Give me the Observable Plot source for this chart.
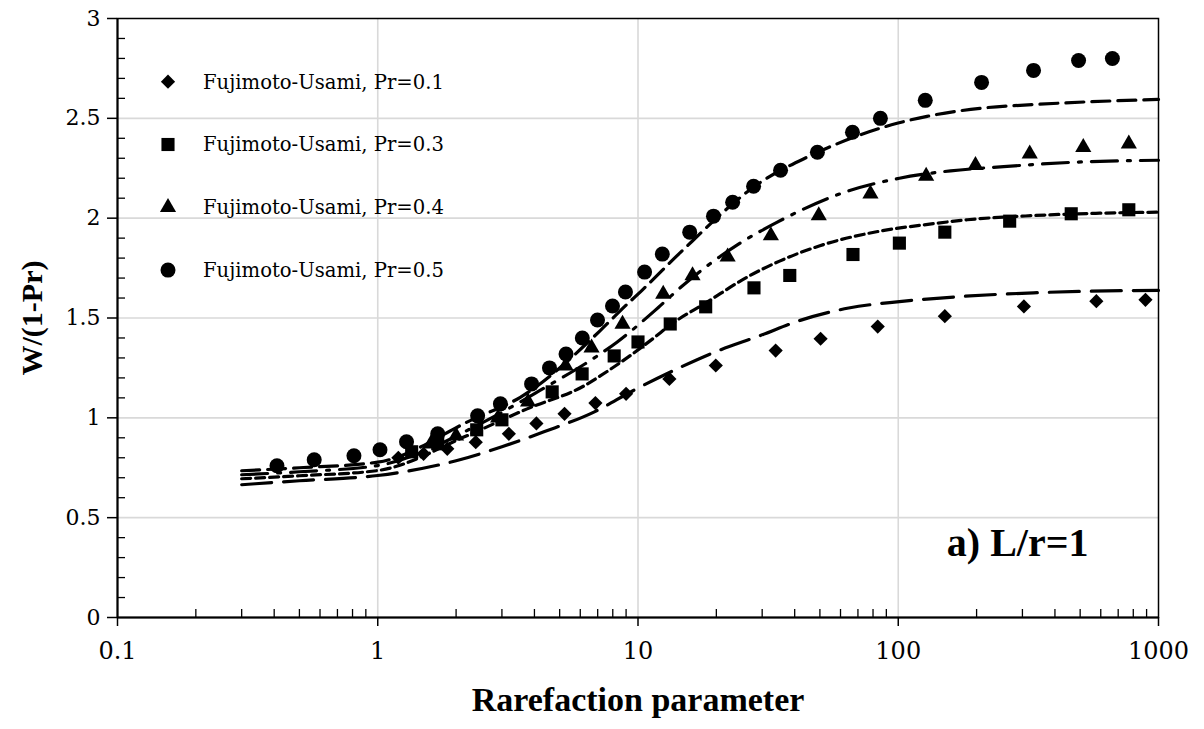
<!DOCTYPE html>
<html><head><meta charset="utf-8">
<script src="https://cdn.jsdelivr.net/npm/d3@7"></script>
<script src="https://cdn.jsdelivr.net/npm/@observablehq/plot@0.6"></script>
<style>
html,body{margin:0;padding:0;background:#fff;}
#wrap{position:relative;width:1204px;height:729px;overflow:hidden;}
#legend{position:absolute;left:150px;top:50px;}
</style></head>
<body><div id="wrap"><div id="chart"></div><div id="legend"></div></div>
<script>
// ---- data ----
const xTickLabels = [0.1, 1, 10, 100, 1000];
const yTickLabels = [0, 0.5, 1, 1.5, 2, 2.5, 3];

const seriesNames = ["Fujimoto-Usami, Pr=0.1", "Fujimoto-Usami, Pr=0.3", "Fujimoto-Usami, Pr=0.4", "Fujimoto-Usami, Pr=0.5"];

// symbols: Pr=0.1 diamonds
const pr01X = [1.2, 1.5, 1.85, 2.38, 3.19, 4.07, 5.22, 6.86, 9.0, 13.2, 19.9, 33.8, 50.3, 83.4, 151, 304, 577, 891];
const pr01Y = [0.80, 0.82, 0.845, 0.878, 0.92, 0.972, 1.02, 1.074, 1.12, 1.195, 1.262, 1.337, 1.396, 1.457, 1.509, 1.558, 1.584, 1.591];
// Pr=0.3 squares
const pr03X = [1.35, 1.7, 2.4, 3.0, 4.68, 6.1, 8.1, 10, 13.3, 18.2, 27.9, 38.3, 67, 101, 151, 268, 462, 769];
const pr03Y = [0.83, 0.87, 0.94, 0.99, 1.13, 1.22, 1.31, 1.38, 1.47, 1.556, 1.651, 1.713, 1.818, 1.875, 1.93, 1.985, 2.022, 2.042];
// Pr=0.4 triangles
const pr04X = [1.6, 2.0, 2.9, 3.78, 5.27, 6.63, 8.72, 12.5, 16.2, 22.1, 32.4, 49.5, 78.2, 128, 198, 320, 514, 769];
const pr04Y = [0.87, 0.91, 1.0, 1.08, 1.26, 1.35, 1.47, 1.62, 1.713, 1.806, 1.913, 2.013, 2.122, 2.211, 2.264, 2.322, 2.355, 2.372];
// Pr=0.5 circles
const pr05X = [0.41, 0.57, 0.81, 1.02, 1.29, 1.7, 2.42, 2.96, 3.9, 4.57, 5.29, 6.11, 6.99, 7.98, 8.95, 10.6, 12.4, 15.8, 19.5, 23.1, 27.8, 35.3, 48.9, 66.7, 85.4, 127, 209, 331, 493, 665];
const pr05Y = [0.76, 0.79, 0.81, 0.84, 0.88, 0.92, 1.01, 1.07, 1.17, 1.25, 1.32, 1.40, 1.49, 1.56, 1.63, 1.73, 1.82, 1.93, 2.01, 2.08, 2.16, 2.24, 2.33, 2.43, 2.50, 2.59, 2.68, 2.74, 2.79, 2.80];

// model curves
const c01X = [0.3, 0.5, 1, 2, 3, 4.35, 6.8, 9.6, 13.7, 19.8, 29.5, 42, 64.5, 101, 163, 331, 532, 1000];
const c01Y = [0.665, 0.685, 0.711, 0.785, 0.855, 0.93, 1.03, 1.137, 1.237, 1.33, 1.412, 1.488, 1.55, 1.582, 1.605, 1.626, 1.634, 1.638];
const c03X = [0.3, 0.5, 1, 2.2, 3.75, 6.2, 7.16, 11.5, 13.3, 18.4, 26.2, 35, 50, 85, 132, 184, 331, 595, 1000];
const c03Y = [0.695, 0.71, 0.736, 0.91, 1.045, 1.16, 1.21, 1.40, 1.465, 1.579, 1.704, 1.785, 1.862, 1.935, 1.97, 1.992, 2.013, 2.025, 2.03];
const c04X = [0.3, 0.5, 1, 2.56, 4.2, 7.16, 8.3, 12, 14.6, 24, 34.3, 62.6, 101, 159, 254, 470, 1000];
const c04Y = [0.715, 0.73, 0.761, 0.98, 1.137, 1.32, 1.379, 1.554, 1.654, 1.865, 1.98, 2.131, 2.2, 2.237, 2.258, 2.28, 2.29];
const c05X = [0.3, 0.5, 1, 2.34, 3.53, 7.16, 8.56, 10.5, 14.6, 30.4, 44.6, 99, 129, 206, 343, 1000];
const c05Y = [0.735, 0.75, 0.778, 0.995, 1.103, 1.437, 1.537, 1.646, 1.83, 2.19, 2.305, 2.475, 2.51, 2.55, 2.57, 2.595];

// ---- build tables ----
const tbl = (xs, ys) => xs.map((x, i) => ({x, y: ys[i]}));
const minorX = [];
for (const d of [0.1, 1, 10, 100]) for (let k = 2; k <= 9; k++) minorX.push(+(d * k).toPrecision(3));
const minorY = d3.range(1, 30).map(i => +(i / 10).toFixed(1)).filter(v => !yTickLabels.includes(v));

const lineStyle = {stroke: "#000", strokeWidth: 3.2, curve: "monotone-x"};
const symbols = [
  {sym: "diamond2", r: 6.4},
  {sym: "square", r: 7.4},
  {sym: "triangle", r: 6.0},
  {sym: "circle", r: 7.5}
];

const chart = Plot.plot({
  width: 1204, height: 729,
  marginLeft: 117, marginRight: 46, marginTop: 18, marginBottom: 112,
  style: {fontFamily: "DejaVu Serif", fontSize: "22px", color: "#000", background: "#fff"},
  x: {type: "log", domain: [0.1, 1000]},
  y: {domain: [0, 3]},
  marks: [
    Plot.gridX([1, 10, 100], {stroke: "#d9d9d9", strokeOpacity: 1, strokeWidth: 1.6}),
    Plot.gridY([0.5, 1, 1.5, 2, 2.5], {stroke: "#d9d9d9", strokeOpacity: 1, strokeWidth: 1.6}),
    Plot.axisX(xTickLabels, {tickSize: 9, tickPadding: 15, tickFormat: d => String(d), label: null, strokeWidth: 1.5, fontSize: 24}),
    Plot.axisX(minorX, {tickSize: -8, tickFormat: () => "", label: null, strokeWidth: 1.3}),
    Plot.axisY(yTickLabels, {tickSize: 10, tickPadding: 7, tickFormat: d => String(d), label: null, strokeWidth: 1.5}),
    Plot.axisY(minorY, {tickSize: -8, tickFormat: () => "", label: null, strokeWidth: 1.3}),
    Plot.line(tbl(c01X, c01Y), {x: "x", y: "y", ...lineStyle, strokeDasharray: "30,12"}),
    Plot.line(tbl(c03X, c03Y), {x: "x", y: "y", ...lineStyle, strokeDasharray: "9,5"}),
    Plot.line(tbl(c04X, c04Y), {x: "x", y: "y", ...lineStyle, strokeDasharray: "26,10,3,10"}),
    Plot.line(tbl(c05X, c05Y), {x: "x", y: "y", ...lineStyle, strokeDasharray: "18,8"}),
    Plot.dot(tbl(pr01X, pr01Y), {x: "x", y: "y", symbol: symbols[0].sym, r: symbols[0].r, fill: "#000", stroke: "none"}),
    Plot.dot(tbl(pr03X, pr03Y), {x: "x", y: "y", symbol: symbols[1].sym, r: symbols[1].r, fill: "#000", stroke: "none"}),
    Plot.dot(tbl(pr04X, pr04Y), {x: "x", y: "y", symbol: symbols[2].sym, r: symbols[2].r, fill: "#000", stroke: "none"}),
    Plot.dot(tbl(pr05X, pr05Y), {x: "x", y: "y", symbol: symbols[3].sym, r: symbols[3].r, fill: "#000", stroke: "none"}),
    Plot.frame({stroke: "#000", strokeWidth: 1.5}),
    Plot.ruleX([0.1], {stroke: "#000", strokeWidth: 2}),
    Plot.ruleY([0], {stroke: "#000", strokeWidth: 2}),
    Plot.text(["W/(1-Pr)"], {text: d => d, frameAnchor: "left", dx: -85, rotate: -90, textAnchor: "middle", fontFamily: "Liberation Serif", fontWeight: "bold", fontSize: 30, fill: "#000"}),
    Plot.text(["Rarefaction parameter"], {text: d => d, frameAnchor: "bottom", dy: 93, textAnchor: "middle", fontFamily: "Liberation Serif", fontWeight: "bold", fontSize: 34, fill: "#000"}),
    Plot.text(["a) L/r=1"], {text: d => d, frameAnchor: "bottom-right", dx: -70, dy: -62, textAnchor: "end", fontFamily: "Liberation Serif", fontWeight: "bold", fontSize: 40, fill: "#000"})
  ]
});
document.getElementById("chart").appendChild(chart);

// ---- legend (HTML overlay) ----
const lg = d3.select("#legend").append("svg").attr("width", 340).attr("height", 250)
  .style("font-family", "DejaVu Serif").style("font-size", "19.6px");
seriesNames.forEach((name, i) => {
  const g = lg.append("g").attr("transform", `translate(18, ${31.7 + i * 62.8})`);
  g.append("path").attr("d", d3.symbol(d3[{diamond2: "symbolDiamond2", square: "symbolSquare", triangle: "symbolTriangle", circle: "symbolCircle"}[symbols[i].sym]], Math.PI * symbols[i].r * symbols[i].r)()).attr("fill", "#000");
  g.append("text").attr("x", 35).attr("dy", "0.35em").text(name).attr("fill", "#000");
});
</script>
</body></html>
